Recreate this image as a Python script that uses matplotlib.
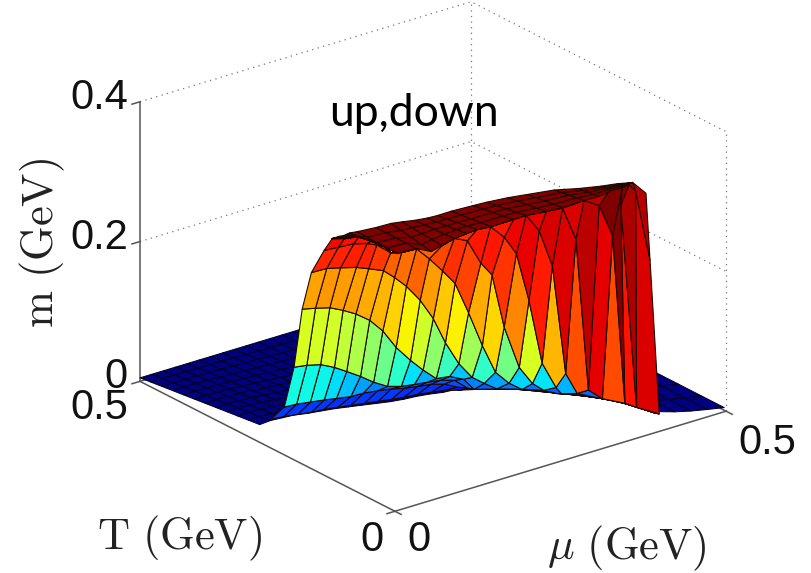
import numpy as np
import matplotlib
matplotlib.use('Agg')
import matplotlib.pyplot as plt
from matplotlib import cm

plt.rcParams['mathtext.fontset'] = 'cm'

# all values in MeV
mu_grid = [54, 71, 88, 105, 122, 139, 155, 172, 189, 205, 221, 239, 256, 272, 284, 307, 331, 353, 371, 398, 408, 416]

T_grid = [
    [313, 310, 305, 300, 298, 293, 288, 283, 278, 273, 269, 266, 261, 256, 247, 233, 216, 195, 170, 136, 119, 101],
    [287, 285, 280, 275, 273, 267, 263, 258, 253, 248, 243, 240, 236, 231, 221, 214, 203, 186, 160, 128, 113, 93],
    [268, 265, 260, 255, 253, 248, 243, 238, 233, 228, 224, 221, 216, 211, 202, 194, 187, 177, 151, 120, 106, 85],
    [252, 248, 242, 238, 235, 230, 225, 221, 215, 211, 206, 203, 198, 198, 184, 175, 173, 168, 142, 111, 100, 77],
    [234, 226, 221, 212, 210, 203, 202, 201, 196, 191, 188, 185, 181, 178, 169, 161, 161, 159, 133, 103, 93, 69],
    [209, 203, 195, 191, 194, 189, 188, 181, 178, 173, 169, 166, 161, 156, 145, 149, 150, 150, 124, 95, 87, 61],
    [193, 191, 185, 181, 179, 189, 188, 181, 153, 150, 145, 142, 142, 139, 125, 129, 138, 141, 115, 86, 80, 53],
    [193, 191, 185, 181, 179, 189, 188, 181, 153, 150, 126, 123, 118, 115, 106, 110, 114, 132, 106, 78, 74, 46],
    [193, 191, 185, 181, 179, 189, 188, 181, 153, 150, 126, 123, 100, 96, 86, 90, 95, 101, 97, 70, 67, 38],
    [193, 191, 185, 181, 179, 189, 188, 181, 153, 150, 126, 123, 100, 96, 72, 70, 75, 79, 75, 66, 60, 30],
    [193, 191, 185, 181, 179, 189, 188, 181, 153, 150, 126, 123, 100, 96, 72, 70, 59, 58, 55, 66, 56, 22],
    [193, 191, 185, 181, 179, 189, 188, 181, 153, 150, 126, 123, 100, 96, 72, 70, 59, 38, 36, 74, 56, 22],
    [193, 191, 185, 181, 179, 189, 188, 181, 153, 150, 126, 123, 100, 96, 72, 70, 59, 38, 36, 58, 58, 40],
    [193, 191, 185, 181, 179, 189, 188, 181, 153, 150, 126, 123, 100, 96, 72, 70, 59, 38, 36, 58, 64, 48],
]

m_grid = [
    [0, 0, 0, 0, 0, 0, 0, 0, 0, 0, 0, 0, 0, 0, 0, 0, 0, 0, 0, 0, 0, 0],
    [27, 27, 27, 27, 25, 25, 27, 27, 27, 25, 25, 24, 21, 14, 12, 7, 5, 3, 3, 2, 1, 2],
    [91, 90, 88, 81, 71, 61, 50, 41, 38, 38, 38, 37, 34, 20, 20, 15, 10, 5, 6, 4, 3, 3],
    [180, 178, 176, 169, 160, 148, 130, 103, 82, 65, 50, 49, 42, 23, 25, 22, 15, 8, 9, 6, 4, 4],
    [239, 243, 241, 240, 234, 229, 215, 198, 175, 146, 108, 74, 51, 39, 31, 27, 18, 10, 12, 8, 6, 5],
    [280, 282, 285, 282, 274, 260, 256, 259, 241, 221, 200, 154, 104, 63, 48, 31, 23, 13, 15, 10, 7, 6],
    [303, 299, 299, 290, 277, 260, 256, 259, 269, 276, 270, 234, 212, 134, 78, 47, 27, 15, 17, 12, 8, 7],
    [303, 299, 299, 290, 277, 260, 256, 259, 269, 276, 293, 293, 275, 248, 181, 83, 40, 18, 20, 14, 9, 8],
    [303, 299, 299, 290, 277, 260, 256, 259, 269, 276, 293, 293, 307, 310, 288, 230, 67, 30, 22, 15, 10, 9],
    [303, 299, 299, 290, 277, 260, 256, 259, 269, 276, 293, 293, 307, 310, 321, 320, 267, 43, 27, 16, 11, 10],
    [303, 299, 299, 290, 277, 260, 256, 259, 269, 276, 293, 293, 307, 310, 321, 320, 328, 315, 268, 16, 11, 12],
    [303, 299, 299, 290, 277, 260, 256, 259, 269, 276, 293, 293, 307, 310, 321, 320, 328, 344, 343, 296, 11, 12],
    [303, 299, 299, 290, 277, 260, 256, 259, 269, 276, 293, 293, 307, 310, 321, 320, 328, 344, 343, 332, 320, 225],
    [303, 299, 299, 290, 277, 260, 256, 259, 269, 276, 293, 293, 307, 310, 321, 320, 328, 344, 343, 332, 330, 318],
]

# dark top of the ridge
cap_mu = [12, 24, 41, 46, 47, 46, 73, 82, 103, 128, 149, 166, 185, 219, 239, 265, 288, 322, 343, 366, 382, 401]
cap_T_front = [139, 129, 124, 105, 81, 55, 54, 35, 42, 50, 53, 55, 52, 53, 53, 48, 46, 47, 46, 51, 51, 55]
cap_T_back = [139, 141, 153, 154, 150, 134, 132, 114, 120, 128, 131, 133, 130, 131, 131, 123, 115, 106, 85, 71, 60, 55]
cap_m_back = [335, 334, 326, 326, 329, 337, 336, 346, 340, 332, 328, 326, 328, 326, 325, 327, 328, 328, 332, 334, 337, 335]
cap_m_front = 335

# flat part, front edge
floor_mu = [33, 50, 67, 83, 100, 117, 133, 150, 167, 183, 200, 217, 233, 250, 267, 283, 300, 317, 333, 350, 367, 383, 400, 417, 433, 450, 467, 485, 505]
floor_T = [308, 310, 308, 306, 300, 296, 292, 286, 280, 274, 268, 264, 262, 258, 252, 250, 240, 236, 228, 210, 190, 170, 140, 95, 50, 36, 26, 18, 10]
floor_m_back = 5

# height to place in the jet map
level_m = [0, 90, 175, 240, 280, 320, 345]
level_jet = [0.1, 0.37, 0.6, 0.74, 0.87, 0.92, 1.0]

mu = np.array(mu_grid) / 1000
T = np.array(T_grid) / 1000
m = np.array(m_grid) / 1000


def jet_of(values):
    return cm.jet(np.interp(values, np.array(level_m) / 1000, level_jet))


fig = plt.figure(figsize=(8.12, 5.73), dpi=100)
# square axes big enough that nothing gets clipped
ax = fig.add_axes([(419.5 - 500) / 812, (303 - 500) / 573, 1000 / 812, 1000 / 573],
                  projection='3d', proj_type='ortho')
ax.set_box_aspect((418, 418, 304), zoom=1.126 * 573 / 1000)
ax.view_init(elev=23.1, azim=-127.6)
ax.set_xlim(0, 0.5, view_margin=0)
ax.set_ylim(0, 0.5, view_margin=0)
ax.set_zlim(0, 0.4, view_margin=0)
ax.set_axis_off()
ax.computed_zorder = False

# dotted box at the back
dots = dict(color='#777777', ls=(0, (1, 3.5)), lw=0.9, zorder=0)
for z in [0.2, 0.4]:
    ax.plot([0, 0.5, 0.5], [0.5, 0.5, 0], [z, z, z], **dots)
ax.plot([0.5, 0.5], [0.5, 0.5], [0, 0.4], **dots)
ax.plot([0.5, 0.5], [0, 0], [0, 0.4], **dots)

# solid axes and their ticks
solid = dict(color='#555555', lw=1.1, zorder=1)
ax.plot([0, 0], [0.5, 0.5], [0, 0.4], **solid)
ax.plot([0, 0], [0.5, 0], [0, 0], **solid)
ax.plot([0, 0.5], [0, 0], [0, 0], **solid)
for z in [0, 0.2, 0.4]:
    ax.plot([0, -0.012], [0.5, 0.5], [z, z], **solid)
ax.plot([0, 0.012], [0.5, 0.5], [0, 0], **solid)
ax.plot([0, -0.012], [0, 0], [0, 0], **solid)
ax.plot([0, 0], [0, -0.012], [0, 0], **solid)
ax.plot([0.5, 0.5], [0, -0.012], [0, 0], **solid)
ax.plot([0.5, 0.5], [0, 0.012], [0, 0], **solid)

# floor
f = np.linspace(0, 1, 12)[:, None]
f_mu = np.array(floor_mu) / 1000
f_T = np.array(floor_T) / 1000
X_floor = f_mu + (np.linspace(0, 0.5, f_mu.size) - f_mu) * f
Y_floor = f_T + (0.5 - f_T) * f
Z_floor = floor_m_back / 1000 * f * np.ones_like(X_floor)
ax.plot_surface(X_floor, Y_floor, Z_floor, color=cm.jet(0.0), edgecolor='#000018', linewidth=0.7,
                shade=False, rstride=1, cstride=1, zorder=2)

# the wall, each cell coloured by its upper left corner
X_wall = np.tile(mu, (T.shape[0], 1))
top_corner = np.vstack([m[1:], m[-1:]])
ax.plot_surface(X_wall, T, m, facecolors=jet_of(top_corner), edgecolor='#200800', linewidth=0.8,
                shade=False, rstride=1, cstride=1, zorder=3)

# ridge top
f = np.linspace(0, 1, 5)[:, None]
c_mu = np.array(cap_mu) / 1000
c_front = np.array(cap_T_front) / 1000
c_back = np.array(cap_T_back) / 1000
c_m = np.array(cap_m_back) / 1000
X_cap = np.tile(c_mu, (5, 1))
Y_cap = c_back + (c_front - c_back) * f
Z_cap = c_m + (cap_m_front / 1000 - c_m) * f
ax.plot_surface(X_cap, Y_cap, Z_cap, color=cm.jet(1.0), edgecolor='#200800', linewidth=0.8,
                shade=False, rstride=1, cstride=1, zorder=4)


def label(x, y, s, **kw):
    fig.text(x / 812, 1 - y / 573, s, **kw)


tick_font = dict(family='Liberation Sans', fontsize=30, va='center', color='#111111')
label(128, 98, '0.4', ha='right', **tick_font)
label(128, 238, '0.2', ha='right', **tick_font)
label(128, 377, '0', ha='right', **tick_font)
label(128, 408, '0.5', ha='right', **tick_font)
label(372, 540, '0', ha='center', **tick_font)
label(419, 540, '0', ha='center', **tick_font)
label(767, 443, '0.5', ha='center', **tick_font)

axis_font = dict(fontsize=32, va='center', ha='center', color='#222222')
label(180, 538, r'$\mathrm{T\ (GeV)}$', **axis_font)
label(627, 548, r'$\mu\ \mathrm{(GeV)}$', **axis_font)
label(42, 243, r'$\mathrm{m\ (GeV)}$', rotation=90, **axis_font)
label(414, 113, 'up,down', family='Lato', fontsize=32, va='center', ha='center', color='black')

fig.savefig('out.png', dpi=100)
